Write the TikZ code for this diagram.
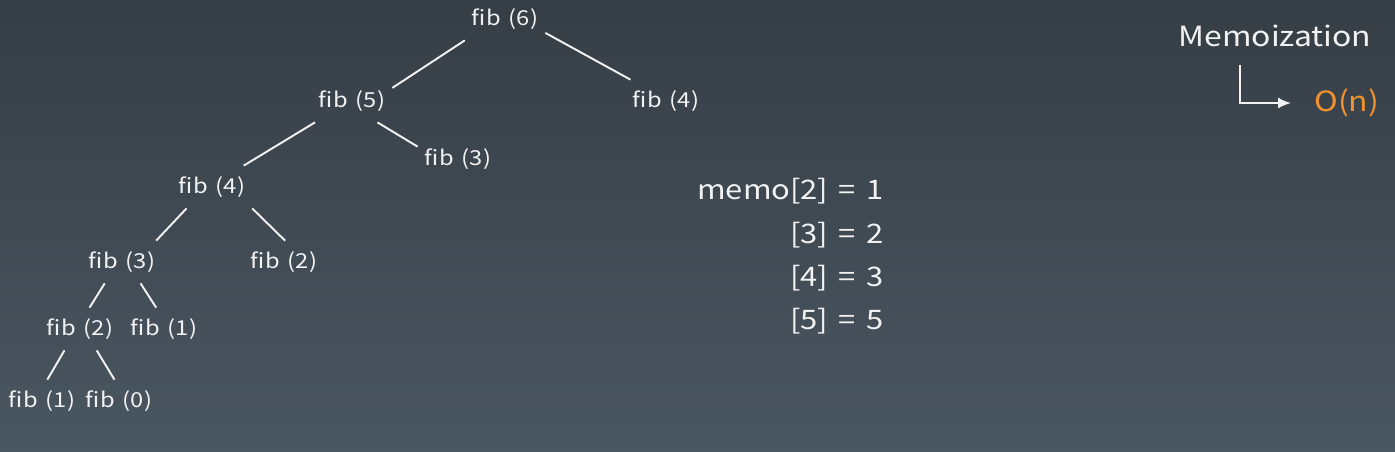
\documentclass[tikz,border=0pt]{standalone}
\usepackage{fontspec}
\setmainfont{Noto Sans CJK SC}
\newfontfamily\slidefont[FakeStretch=1.15, WordSpace=1.5]{Noto Sans CJK SC}
\usetikzlibrary{arrows.meta}
\definecolor{bgtop}{HTML}{363E45}
\definecolor{bgbot}{HTML}{4A5661}
\definecolor{txt}{HTML}{F2F2F2}
\definecolor{ordr}{HTML}{F0922E}

\begin{document}
\begin{tikzpicture}[
  x=0.02cm, y=-0.02cm,
  fib/.style={text=txt, font=\slidefont\fontsize{11.75}{13}\selectfont, inner sep=0pt,
              minimum width=1.6cm, minimum height=0.84cm},
  edge/.style={draw=txt, line width=1.1pt},
  memo/.style={text=txt, font=\slidefont\fontsize{15.3}{19}\selectfont, anchor=base west, inner sep=0pt},
  note/.style={font=\slidefont\fontsize{15.8}{18}\selectfont, inner sep=0pt},
  >={Latex[length=2.6mm,width=2.2mm]},
]

% ===== Background ===============================================================
\shade[top color=bgtop, bottom color=bgbot] (0,0) rectangle (1395,451);
\useasboundingbox (0,0) rectangle (1395,451);

% ===== Recursion tree ===========================================================
\node[fib] (f6)  at (505,19)  {fib (6)};
\node[fib] (f5)  at (352,101) {fib (5)};
\node[fib] (f4r) at (666,101) {fib (4)};
\node[fib] (f3r) at (458,159) {fib (3)};
\node[fib] (f4)  at (212,187) {fib (4)};
\node[fib] (f3)  at (122,262) {fib (3)};
\node[fib] (f2r) at (284,262) {fib (2)};
\node[fib] (f2)  at (80,329)  {fib (2)};
\node[fib] (f1r) at (164,329) {fib (1)};
\node[fib] (f1)  at (42,401)  {fib (1)};
\node[fib] (f0)  at (119,401) {fib (0)};

% tree edges, anchored at the angles the lines leave each label
\draw[edge] (f6.208) -- (f5.18);
\draw[edge] (f6.341) -- (f4r.149);
\draw[edge] (f5.210) -- (f4.34);
\draw[edge] (f5.320) -- (f3r.163);
\draw[edge] (f4.220) -- (f3.32);
\draw[edge] (f4.332) -- (f2r.87);
\draw[edge] (f3.231) -- (f2.66);
\draw[edge] (f3.311) -- (f1r.110);
\draw[edge] (f2.234) -- (f1.76);
\draw[edge] (f2.308) -- (f0.102);

% ===== Memo table ===============================================================
\node[memo] (m2) at (790,199) {\llap{memo}[2] = 1};
\node[memo] (m3) at (790,243) {[3] = 2};
\node[memo] (m4) at (790,286) {[4] = 3};
\node[memo] (m5) at (790,329) {[5] = 5};

% ===== Complexity note ==========================================================
\node[note, text=txt] (memoiz) at (1275,36) {Memoization};
\node[note, text=ordr, anchor=west] (on) at (1314,103) {O(n)};
\draw[txt, line width=1.1pt, ->, shorten >=0.46cm]
  ([xshift=-0.7cm, yshift=-0.36cm]memoiz.south) |- (on.west);

\end{tikzpicture}
\end{document}
